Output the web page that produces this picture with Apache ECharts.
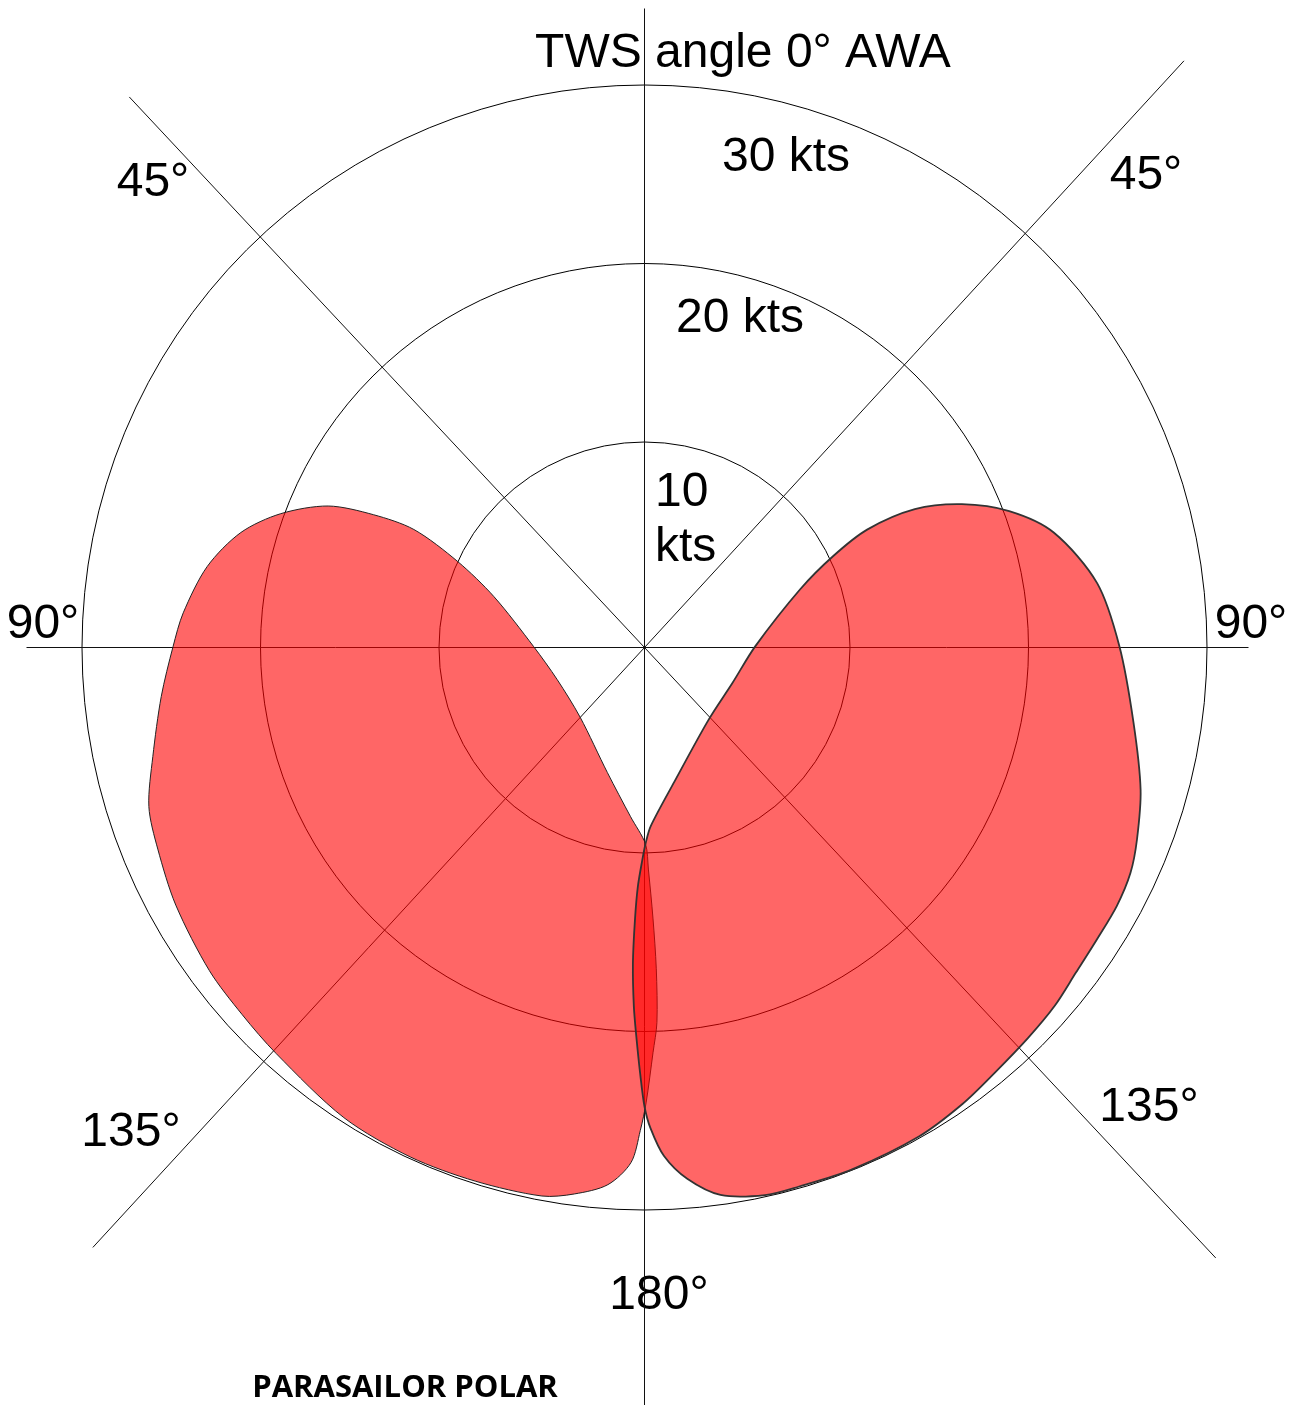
<!DOCTYPE html>
<html>
<head>
<meta charset="utf-8">
<title>Parasailor polar</title>
<script src="https://cdn.jsdelivr.net/npm/echarts@6/dist/echarts.min.js"></script>
<style>
  html, body { margin: 0; padding: 0; background: #fff; }
  #chart { width: 1300px; height: 1405px; }
</style>
</head>
<body>
<div id="chart"></div>
<script>
// rings and labels
const speedRings = [10, 20, 30];
const speedLabels = ['10\nkts', '20 kts', '30 kts'];
const angleLabels = ['45°', '90°', '135°', '180°', '135°', '90°', '45°'];
const titleText = 'TWS angle 0° AWA';
const footerText = 'PARASAILOR POLAR';

// guide lines, degrees clockwise from the top (as drawn in the original)
const guideAngles = [0, 42.6, 90, 136.9, 180, 222.6, 270, 316.9];

// port lobe outline: wind angle (deg) and boat speed (kts)
const portAngles = [179.7, 184.7, 196.5, 222.8, 249.9, 270.5, 288.7, 294.7, 297.1, 296.1,
  294.1, 290.2, 285.9, 280.5, 274.3, 270.1, 264.2, 257.5, 252.2, 247.5,
  241.2, 233.4, 227.6, 222.2, 212.6, 204.7, 197.6, 190.6, 187.3, 183.9,
  181.5, 180.5, 179.8, 178.8, 178.1, 177.9, 178.2, 179.0];
const portSpeeds = [9.5, 8.0, 5.8, 3.8, 3.7, 4.7, 7.4, 10.0, 13.0, 15.4,
  17.9, 20.2, 22.0, 23.4, 24.4, 24.9, 25.7, 26.7, 27.65, 28.0,
  28.45, 28.85, 29.0, 29.2, 29.75, 29.9, 29.85, 29.75, 29.35, 28.65,
  27.35, 25.55, 24.0, 21.2, 19.5, 16.5, 13.7, 10.9];

// starboard lobe outline
const starboardAngles = [179.6, 178.0, 167.5, 138.5, 112.0, 89.3, 69.5, 64.2, 62.1, 62.9,
  65.7, 69.5, 74.3, 81.9, 89.9, 98.7, 106.0, 111.3, 114.9, 118.7,
  122.9, 127.0, 131.1, 135.5, 140.5, 145.1, 150.7, 158.3, 164.0, 167.6,
  172.1, 175.4, 177.8, 179.3, 180.0, 180.6, 181.2, 181.7, 182.1, 182.0,
  181.6, 180.6];
const starboardSpeeds = [9.4, 8.5, 6.2, 3.9, 3.8, 4.7, 7.8, 10.2, 12.6, 15.5,
  18.0, 20.3, 22.3, 24.1, 25.1, 26.2, 27.4, 28.1, 28.5, 28.65,
  28.65, 28.75, 29.0, 29.15, 29.35, 29.65, 29.9, 29.95, 29.9, 29.9,
  29.45, 28.35, 27.0, 25.4, 24.2, 22.3, 20.3, 18.6, 16.2, 13.7,
  11.9, 10.4];

// how far each guide line runs from the centre, px
const spokeReach = [639, 797, 604, 836, 760, 815, 618, 754];
const speedLabelPos = [[655, 520.5, 'left'], [740, 319, 'center'], [786, 158, 'center']];
const angleLabelPos = [[153, 182.5], [43, 624.5], [131, 1133], [659, 1296], [1149, 1108], [1251, 624.5], [1146, 175.5]];

const chart = echarts.init(document.getElementById('chart'));

const toPoints = (angles, speeds) => angles.map((a, i) => [speeds[i], a]);

function lobe(name, angles, speeds, stroke, width) {
  const pts = toPoints(angles, speeds);
  return {
    name: name,
    type: 'custom',
    coordinateSystem: 'polar',
    silent: true,
    z: 3,
    data: pts,
    renderItem(params, api) {
      if (params.dataIndex !== 0) return null;
      return {
        type: 'polygon',
        shape: { points: pts.map(p => api.coord(p)), smooth: 0.3 },
        style: { fill: 'rgba(255,0,0,0.6)', stroke: stroke, lineWidth: width },
      };
    },
  };
}

function text(str, x, y, opts) {
  return {
    type: 'text',
    x: x,
    y: y,
    silent: true,
    style: Object.assign({
      text: str,
      fill: '#000',
      fontSize: 48,
      fontFamily: '"Liberation Sans", Arial, sans-serif',
      align: 'center',
      verticalAlign: 'middle',
      textAlign: 'center',
      textVerticalAlign: 'middle',
    }, opts || {}),
  };
}

const graphics = [text(titleText, 743, 54)];
speedLabels.forEach((s, i) => {
  const p = speedLabelPos[i];
  graphics.push(text(s, p[0], p[1], { align: p[2], textAlign: p[2], lineHeight: 55 }));
});
angleLabels.forEach((s, i) => {
  graphics.push(text(s, angleLabelPos[i][0], angleLabelPos[i][1]));
});
graphics.push(text(footerText, 405, 1388, {
  fontSize: 31,
  fontWeight: 'bold',
  fontFamily: '"Open Sans", "Noto Sans", sans-serif',
}));

chart.setOption({
  animation: false,
  backgroundColor: '#fff',
  polar: {
    center: [644.5, 647.5],
    radius: [27, 562.5],
  },
  angleAxis: {
    type: 'value',
    min: 0,
    max: 360,
    startAngle: 90,
    clockwise: true,
    axisLine: { show: false },
    axisTick: { show: false },
    axisLabel: { show: false },
    splitLine: { show: false },
  },
  radiusAxis: {
    type: 'value',
    min: 0,
    max: speedRings[speedRings.length - 1],
    interval: 10,
    axisLine: { show: false },
    axisTick: { show: false },
    axisLabel: { show: false },
    splitLine: {
      show: true,
      lineStyle: { color: ['rgba(0,0,0,0)', '#000', '#000', '#000'], width: 1 },
    },
  },
  graphic: graphics,
  series: [
    {
      name: 'guides',
      type: 'custom',
      coordinateSystem: 'polar',
      silent: true,
      z: 1,
      data: guideAngles.map(a => [0, a]),
      renderItem(params, api) {
        const cs = params.coordSys;
        const p = api.coord([30, api.value(1)]);
        const dx = p[0] - cs.cx;
        const dy = p[1] - cs.cy;
        const len = Math.sqrt(dx * dx + dy * dy);
        const reach = spokeReach[params.dataIndex];
        return {
          type: 'line',
          shape: {
            x1: cs.cx, y1: cs.cy,
            x2: cs.cx + dx / len * reach,
            y2: cs.cy + dy / len * reach,
          },
          style: { stroke: '#111', lineWidth: 1 },
        };
      },
    },
    lobe('port', portAngles, portSpeeds, '#222', 1),
    lobe('starboard', starboardAngles, starboardSpeeds, '#333', 1.8),
  ],
});

window.addEventListener('resize', () => chart.resize());
</script>
</body>
</html>
